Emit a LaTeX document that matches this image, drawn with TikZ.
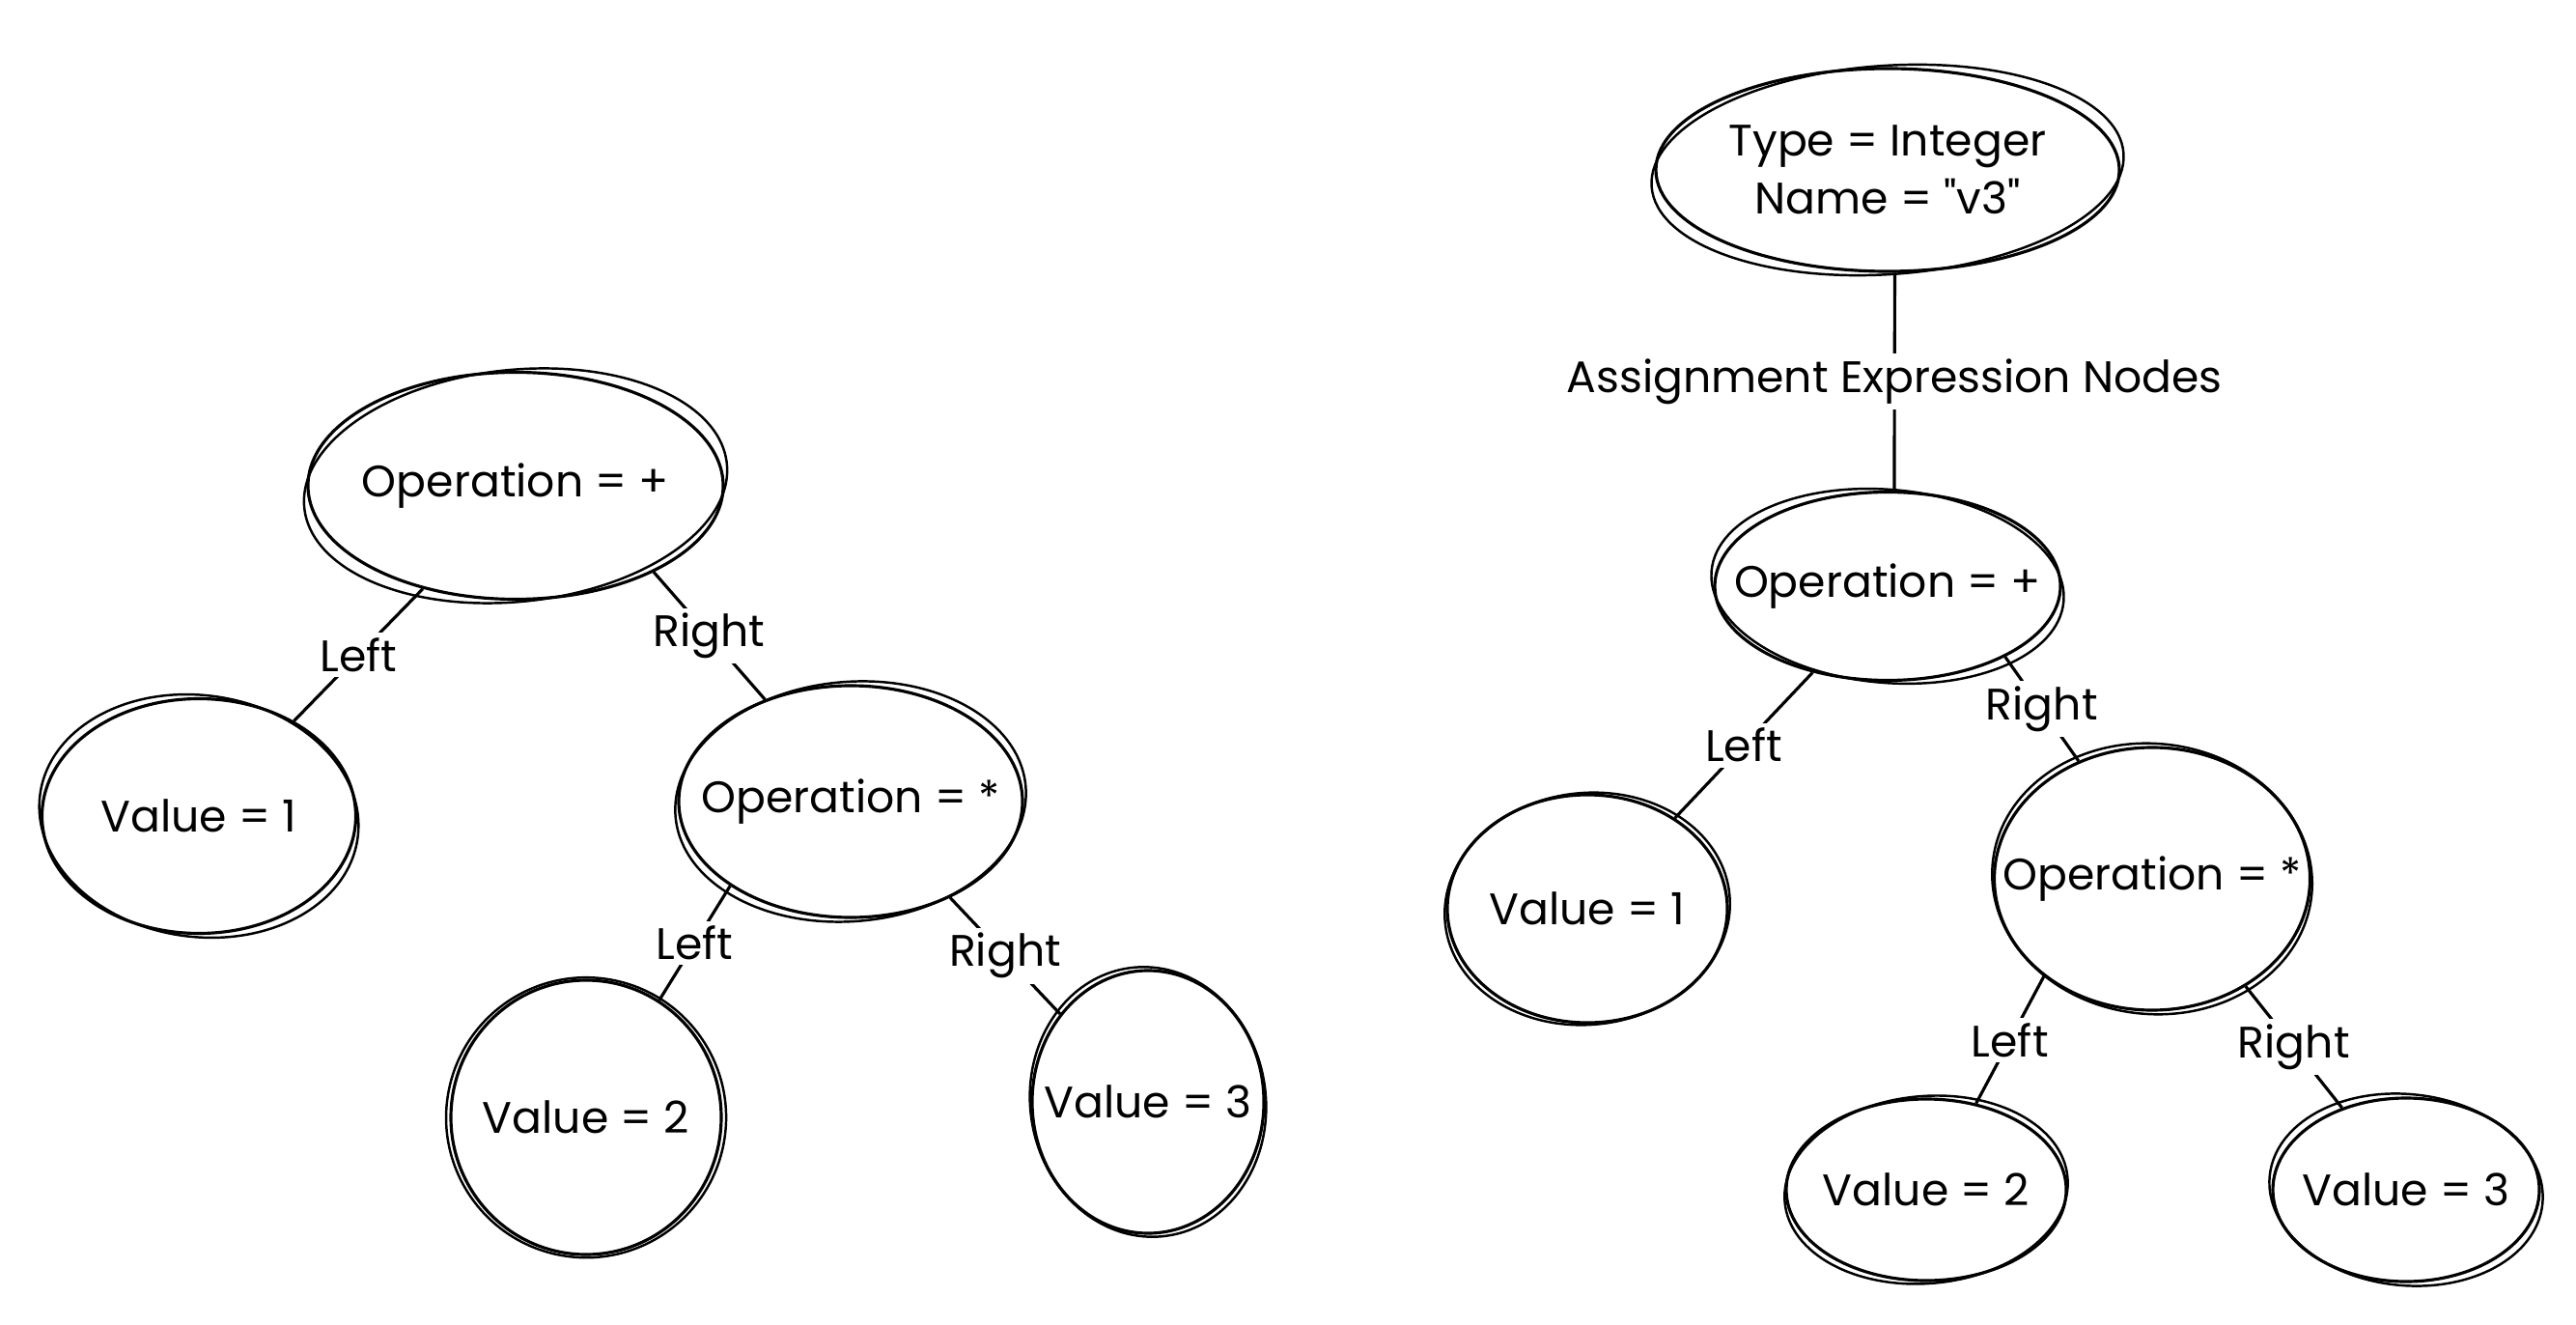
\documentclass[tikz,border=0pt]{standalone}
\usepackage{fontspec}
\setmainfont{Poppins}[Ligatures=TeXOff]
\usetikzlibrary{positioning,shapes.geometric}

\begin{document}
\begin{tikzpicture}[
    on grid,
    treeNode/.style={
        ellipse,
        draw=black,
        line width=0.9pt,
        inner xsep=-0.4cm,
        inner ysep=0pt,
        align=center,
        font=\fontsize{13}{17}\selectfont
    },
    sketch/.style={draw=black, line width=0.7pt},
    link/.style={line width=0.9pt},
    edgeLabel/.style={
        fill=white,
        inner sep=1.5pt,
        font=\fontsize{13}{15}\selectfont
    }
]
\useasboundingbox (0,0) rectangle (26.68,-13.72);

% Left tree
\node[treeNode, minimum width=4.3cm, minimum height=2.35cm] (opA) at (5.34,-5.03) {Operation = +};
\node[treeNode, minimum width=3.25cm, minimum height=2.43cm, below left=3.42cm and 3.28cm of opA] (valA1) {Value = 1};
\node[treeNode, minimum width=3.56cm, minimum height=2.4cm, below right=3.27cm and 3.47cm of opA] (opA2) {Operation = *};
\node[treeNode, minimum width=2.8cm, minimum height=2.84cm, below left=3.27cm and 2.74cm of opA2] (valA2) {Value = 2};
\node[treeNode, minimum width=2.4cm, minimum height=2.72cm, below right=3.11cm and 3.08cm of opA2] (valA3) {Value = 3};

% Right tree
\node[treeNode, minimum width=4.8cm, minimum height=2.1cm] (typeB) at (19.55,-1.76) {Type = Integer\\Name = "v3"};
\node[treeNode, minimum width=3.58cm, minimum height=1.95cm, below=4.31cm of typeB] (opB) {Operation = +};
\node[treeNode, minimum width=2.9cm, minimum height=2.36cm, below left=3.34cm and 3.11cm of opB] (valB1) {Value = 1};
\node[treeNode, minimum width=3.27cm, minimum height=2.72cm, below right=3.03cm and 2.74cm of opB] (opB2) {Operation = *};
\node[treeNode, minimum width=2.9cm, minimum height=1.88cm, below left=3.22cm and 2.34cm of opB2] (valB2) {Value = 2};
\node[treeNode, minimum width=2.76cm, minimum height=1.9cm, below right=3.22cm and 2.63cm of opB2] (valB3) {Value = 3};

% Second pencil stroke round each node
\foreach \n/\rx/\ry/\a in {opA/2.2/1.2/6, valA1/1.66/1.25/-8, opA2/1.82/1.24/5,
    valA2/1.45/1.45/-10, valA3/1.22/1.4/8, typeB/2.45/1.08/4, opB/1.83/1.0/-5,
    valB1/1.48/1.2/6, opB2/1.66/1.4/-6, valB2/1.47/0.97/5, valB3/1.42/0.99/-6}
    \draw[sketch, rotate around={\a:(\n.center)}] (\n.center) ellipse (\rx cm and \ry cm);

% Edges
\draw[link] (opA.-132) -- node[edgeLabel] {Left} (valA1.45);
\draw[link] (opA.-32) -- node[edgeLabel] {Right} (opA2.130);
\draw[link] (opA2.-145) -- node[edgeLabel] {Left} (valA2.58);
\draw[link] (opA2.-44) -- node[edgeLabel] {Right} (valA3.135);

\draw[link] (typeB.-86) -- node[edgeLabel] {Assignment Expression Nodes} (opB.86);
\draw[link] (opB.-131) -- node[edgeLabel] {Left} (valB1.46);
\draw[link] (opB.-31) -- node[edgeLabel] {Right} (opB2.122);
\draw[link] (opB2.-138) -- node[edgeLabel] {Left} (valB2.60);
\draw[link] (opB2.-49) -- node[edgeLabel] {Right} (valB3.128);

\end{tikzpicture}
\end{document}
